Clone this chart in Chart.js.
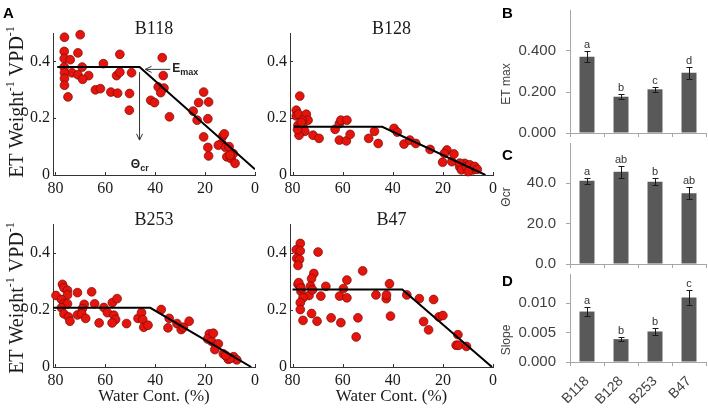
<!DOCTYPE html>
<html>
<head>
<meta charset="utf-8">
<script src="https://cdn.jsdelivr.net/npm/chart.js@4.4.0/dist/chart.umd.min.js"></script>
<style>
  body { margin: 0; background: #fff; }
  #wrap { position: relative; width: 708px; height: 414px; }
  canvas { position: absolute; }
</style>
</head>
<body>
<div id="wrap">
  <canvas id="pB118" width="262" height="200" style="left:0;top:0"></canvas>
  <canvas id="pB128" width="238" height="200" style="left:262px;top:0"></canvas>
  <canvas id="pB253" width="262" height="214" style="left:0;top:200px"></canvas>
  <canvas id="pB47" width="238" height="214" style="left:262px;top:200px"></canvas>
  <canvas id="pEtMax" width="208" height="140" style="left:500px;top:0"></canvas>
  <canvas id="pTheta" width="208" height="128" style="left:500px;top:140px"></canvas>
  <canvas id="pSlope" width="208" height="146" style="left:500px;top:268px"></canvas>
</div>
<script>
// ---- data ----
const waterTicks = [80, 60, 40, 20, 0];
const etTicks = [0, 0.2, 0.4];

// [water content %, ET weight-1 VPD-1]
const b118Points = [
  [76.4,0.485],[70.1,0.494],[76.5,0.435],[71.0,0.430],[76.5,0.410],[74.1,0.406],[54.2,0.425],[37.2,0.413],
  [60.8,0.392],[76.5,0.380],[69.3,0.380],[73.4,0.360],[76.4,0.360],[71.0,0.353],[66.7,0.350],[69.1,0.337],
  [76.4,0.340],[76.4,0.316],[55.5,0.350],[54.2,0.362],[49.5,0.360],[36.8,0.350],[75.0,0.275],[64.0,0.300],
  [62.0,0.304],[57.8,0.292],[55.1,0.288],[50.3,0.287],[50.4,0.228],[38.8,0.310],[36.5,0.306],[37.8,0.290],
  [41.8,0.263],[40.3,0.255],[34.3,0.205],[20.6,0.292],[22.6,0.255],[18.6,0.257],[24.8,0.225],[23.2,0.193],
  [18.9,0.198],[20.6,0.134],[12.9,0.137],[12.3,0.145],[13.3,0.111],[14.7,0.105],[11.8,0.097],[10.4,0.100],
  [18.9,0.097],[18.6,0.067],[11.3,0.064],[9.6,0.058],[8.7,0.075],[8.0,0.041],[10.0,0.070]
];
const b118Fit = [[79.3,0.38],[46.3,0.38],[0,0.02]];

const b128Points = [
  [77.1,0.278],[78.5,0.228],[78.5,0.208],[77.6,0.214],[74.5,0.214],[73.8,0.193],[76.1,0.193],[77.8,0.175],
  [75.8,0.170],[76.9,0.158],[75.1,0.154],[77.4,0.140],[71.8,0.140],[69.4,0.129],[63.0,0.161],[61.3,0.181],
  [60.7,0.193],[58.3,0.193],[61.3,0.123],[58.5,0.120],[57.0,0.143],[49.6,0.129],[47.3,0.154],[45.8,0.111],
  [39.5,0.164],[38.2,0.151],[35.5,0.109],[33.2,0.123],[30.8,0.111],[25.1,0.090],[18.4,0.088],[19.4,0.076],
  [20.1,0.045],[16.4,0.047],[15.6,0.074],[13.3,0.029],[11.3,0.041],[10.2,0.023],[13.3,0.042],[12.6,0.018],
  [10.6,0.029],[9.3,0.036],[7.9,0.018],[7.3,0.030],[9.9,0.012],[6.3,0.020],[76.5,0.185],[78.0,0.160]
];
const b128Fit = [[79.5,0.17],[44.2,0.17],[3,0]];

const b253Points = [
  [79.8,0.250],[77.2,0.289],[76.6,0.277],[75.2,0.268],[75.2,0.252],[77.6,0.236],[76.6,0.221],[75.2,0.221],
  [77.6,0.207],[76.6,0.186],[74.8,0.175],[74.2,0.160],[71.2,0.260],[71.2,0.182],[68.5,0.219],[69.2,0.204],
  [69.5,0.186],[67.9,0.170],[65.5,0.263],[64.3,0.221],[62.5,0.154],[60.6,0.208],[59.2,0.190],[57.2,0.225],
  [55.3,0.239],[56.6,0.181],[55.9,0.166],[57.3,0.154],[51.5,0.152],[46.9,0.170],[45.5,0.190],[45.0,0.166],
  [44.6,0.139],[42.9,0.146],[37.6,0.201],[34.9,0.137],[34.4,0.170],[31.3,0.152],[29.6,0.131],[28.7,0.139],
  [26.4,0.160],[18.3,0.116],[19.0,0.098],[17.4,0.090],[15.7,0.075],[14.7,0.081],[16.1,0.061],[12.7,0.046],
  [11.4,0.037],[9.7,0.032],[10.7,0.027],[8.6,0.036],[7.3,0.025],[9.9,0.030],[11.7,0.040],[16.7,0.118]
];
const b253Fit = [[81,0.207],[42,0.207],[1.5,0]];

const b47Points = [
  [76.9,0.432],[78.5,0.410],[76.9,0.406],[78.3,0.380],[77.2,0.376],[77.8,0.355],[69.8,0.402],[52.0,0.336],
  [58.3,0.304],[71.5,0.327],[72.4,0.309],[77.8,0.289],[76.9,0.283],[66.7,0.282],[59.7,0.274],[72.8,0.283],
  [73.4,0.250],[76.6,0.264],[68.7,0.248],[61.2,0.248],[58.3,0.242],[75.8,0.242],[76.9,0.225],[76.9,0.201],
  [75.8,0.163],[72.4,0.187],[70.2,0.160],[64.6,0.172],[60.7,0.155],[53.9,0.172],[54.6,0.105],[46.7,0.252],
  [42.6,0.239],[42.5,0.252],[41.3,0.291],[40.9,0.178],[34.4,0.252],[29.4,0.239],[23.7,0.236],[27.7,0.159],
  [25.7,0.130],[21.6,0.175],[20.0,0.180],[14.0,0.113],[14.7,0.076],[13.8,0.076],[10.6,0.072],[77.5,0.295],
  [76.6,0.276],[72.0,0.270]
];
const b47Fit = [[80,0.271],[36.2,0.271],[0.4,0]];

// annotation on B118 (data units)
const emaxArrow = [[34,0.372],[44,0.372]];
const thetaArrow = [[46.3,0.362],[46.3,0.123]];
const emaxLabel = [33.2,0.374];
const thetaLabel = [49.8,0.036];

// panels B-D
const lines = ['B118', 'B128', 'B253', 'B47'];
const etMax = [0.372, 0.177, 0.213, 0.294];
const etMaxErr = [0.026, 0.012, 0.012, 0.029];
const etMaxLetters = ['a', 'b', 'c', 'd'];
const etMaxTicks = [0, 0.2, 0.4];

const thetaCr = [41.3, 45.7, 40.8, 35.1];
const thetaCrErr = [1.5, 3.1, 1.8, 3.0];
const thetaCrLetters = ['a', 'ab', 'b', 'ab'];
const thetaCrTicks = [0, 20, 40];

const slope = [0.0086, 0.0039, 0.0052, 0.0110];
const slopeErr = [0.0007, 0.0003, 0.0006, 0.0013];
const slopeLetters = ['a', 'b', 'b', 'c'];
const slopeTicks = [0, 0.005, 0.010];

// ---- drawing ----
const serif = "'Liberation Serif', 'Times New Roman', serif";
const sans = "'Liberation Sans', Arial, sans-serif";
const axisGray = '#a6a6a6';

function arrow(ctx, x1, y1, x2, y2) {
  const ang = Math.atan2(y2 - y1, x2 - x1), h = 7;
  ctx.beginPath();
  ctx.moveTo(x1, y1); ctx.lineTo(x2, y2);
  ctx.moveTo(x2 - h * Math.cos(ang - 0.45), y2 - h * Math.sin(ang - 0.45));
  ctx.lineTo(x2, y2);
  ctx.lineTo(x2 - h * Math.cos(ang + 0.45), y2 - h * Math.sin(ang + 0.45));
  ctx.stroke();
}

function subText(ctx, x, y, main, sub, size) {
  ctx.textAlign = 'left';
  ctx.textBaseline = 'middle';
  ctx.font = 'bold ' + size + 'px ' + sans;
  ctx.fillText(main, x, y);
  const w = ctx.measureText(main).width;
  ctx.font = 'bold ' + Math.round(size * 0.72) + 'px ' + sans;
  ctx.fillText(sub, x + w, y + 4);
}

function yTitle(ctx, x, cy) {
  const parts = [['ET Weight', 20, 0], ['-1', 12, -9], [' VPD', 20, 0], ['-1', 12, -9]];
  let total = 0;
  parts.forEach(p => { ctx.font = p[1] + 'px ' + serif; total += ctx.measureText(p[0]).width; });
  ctx.save();
  ctx.translate(x, cy);
  ctx.rotate(-Math.PI / 2);
  ctx.textAlign = 'left';
  ctx.textBaseline = 'alphabetic';
  let pos = -total / 2;
  parts.forEach(p => {
    ctx.font = p[1] + 'px ' + serif;
    ctx.fillText(p[0], pos, p[2]);
    pos += ctx.measureText(p[0]).width;
  });
  ctx.restore();
}

const scatterDecor = {
  id: 'scatterDecor',
  afterDraw(chart, args, opts) {
    const { ctx, chartArea: a, scales: { x, y } } = chart;
    ctx.save();
    ctx.strokeStyle = '#333';
    ctx.lineWidth = 1;
    ctx.beginPath();
    waterTicks.forEach(v => {
      const px = Math.round(x.getPixelForValue(v)) + 0.5;
      ctx.moveTo(px, a.bottom); ctx.lineTo(px, a.bottom - 3);
    });
    etTicks.forEach(v => {
      const py = Math.round(y.getPixelForValue(v)) + 0.5;
      ctx.moveTo(a.left, py); ctx.lineTo(a.left + 3, py);
    });
    ctx.stroke();

    ctx.fillStyle = '#1a1a1a';
    ctx.font = '18px ' + serif;
    ctx.textAlign = 'center';
    ctx.textBaseline = 'alphabetic';
    ctx.fillText(opts.title, (a.left + a.right) / 2, a.top + 1);

    if (opts.yTitleAt) yTitle(ctx, opts.yTitleAt[0], opts.yTitleAt[1]);

    if (opts.letter) {
      ctx.font = 'bold 15px ' + sans;
      ctx.textAlign = 'left';
      ctx.fillStyle = '#000';
      ctx.fillText(opts.letter, 3, 18);
    }

    if (opts.annotate) {
      ctx.strokeStyle = '#333';
      ctx.fillStyle = '#222';
      arrow(ctx, x.getPixelForValue(emaxArrow[0][0]), y.getPixelForValue(emaxArrow[0][1]),
        x.getPixelForValue(emaxArrow[1][0]), y.getPixelForValue(emaxArrow[1][1]));
      arrow(ctx, x.getPixelForValue(thetaArrow[0][0]), y.getPixelForValue(thetaArrow[0][1]),
        x.getPixelForValue(thetaArrow[1][0]), y.getPixelForValue(thetaArrow[1][1]));
      subText(ctx, x.getPixelForValue(emaxLabel[0]), y.getPixelForValue(emaxLabel[1]), 'E', 'max', 12);
      subText(ctx, x.getPixelForValue(thetaLabel[0]), y.getPixelForValue(thetaLabel[1]), 'Θ', 'cr', 12);
    }
    ctx.restore();
  }
};

function scatterChart(id, points, fit, o) {
  return new Chart(document.getElementById(id), {
    type: 'scatter',
    data: {
      datasets: [
        { data: fit, showLine: true, borderColor: '#000', borderWidth: 2, pointRadius: 0, order: 0 },
        { data: points, backgroundColor: '#e5140d', borderColor: '#7a0a05', borderWidth: 0.7,
          pointRadius: 4.4, clip: false, order: 1 }
      ]
    },
    options: {
      responsive: false,
      animation: false,
      devicePixelRatio: 1,
      layout: { padding: { top: o.padTop, right: 7, left: 0, bottom: 0 } },
      plugins: {
        legend: { display: false },
        tooltip: { enabled: false },
        scatterDecor: o.decor
      },
      scales: {
        x: {
          type: 'linear', reverse: true, min: 0, max: 81,
          grid: { display: false, drawTicks: false },
          border: { color: '#333' },
          afterBuildTicks: s => { s.ticks = waterTicks.map(v => ({ value: v })); },
          ticks: { font: { family: serif, size: 16 }, color: '#1a1a1a', padding: 4, maxRotation: 0 },
          title: { display: o.xTitle, text: 'Water Cont. (%)', font: { family: serif, size: 17 },
            color: '#1a1a1a', padding: { top: 0, bottom: 7 } },
          afterFit: s => { s.height = o.xHeight; s.paddingLeft = 0; s.paddingRight = 0; }
        },
        y: {
          min: 0, max: 0.5,
          grid: { display: false, drawTicks: false },
          border: { color: '#333' },
          afterBuildTicks: s => { s.ticks = etTicks.map(v => ({ value: v })); },
          ticks: { font: { family: serif, size: 16 }, color: '#1a1a1a', padding: 3, callback: v => String(v) },
          afterFit: s => { s.width = o.yWidth; s.paddingTop = 0; s.paddingBottom = 0; }
        }
      }
    },
    plugins: [scatterDecor]
  });
}

scatterChart('pB118', b118Points, b118Fit,
  { padTop: 33, xHeight: 25, yWidth: 53, xTitle: false,
    decor: { title: 'B118', yTitleAt: [23, 102], letter: 'A', annotate: true } });
scatterChart('pB128', b128Points, b128Fit,
  { padTop: 33, xHeight: 25, yWidth: 28, xTitle: false, decor: { title: 'B128' } });
scatterChart('pB253', b253Points, b253Fit,
  { padTop: 24, xHeight: 47, yWidth: 53, xTitle: true,
    decor: { title: 'B253', yTitleAt: [23, 98] } });
scatterChart('pB47', b47Points, b47Fit,
  { padTop: 24, xHeight: 47, yWidth: 28, xTitle: true, decor: { title: 'B47' } });

const barDecor = {
  id: 'barDecor',
  afterDatasetsDraw(chart, args, opts) {
    const { ctx } = chart;
    const y = chart.scales.y;
    const meta = chart.getDatasetMeta(0);
    ctx.save();
    meta.data.forEach((bar, i) => {
      const v = opts.values[i], e = opts.errors[i];
      const top = Math.round(y.getPixelForValue(v + e)) + 0.5;
      const bot = Math.round(y.getPixelForValue(v - e)) + 0.5;
      const cx = Math.round(bar.x) + 0.5;
      ctx.strokeStyle = '#1a1a1a';
      ctx.lineWidth = 1;
      ctx.beginPath();
      ctx.moveTo(cx, top); ctx.lineTo(cx, bot);
      ctx.moveTo(cx - 3, top); ctx.lineTo(cx + 3, top);
      ctx.moveTo(cx - 3, bot); ctx.lineTo(cx + 3, bot);
      ctx.stroke();
      ctx.fillStyle = '#333';
      ctx.font = '11px ' + sans;
      ctx.textAlign = 'center';
      ctx.textBaseline = 'alphabetic';
      ctx.fillText(opts.letters[i], bar.x, top - 4);
    });
    ctx.fillStyle = '#404040';
    ctx.font = '12px ' + sans;
    ctx.save();
    ctx.translate(opts.titleAt[0], opts.titleAt[1]);
    ctx.rotate(-Math.PI / 2);
    ctx.textAlign = 'center';
    ctx.textBaseline = 'middle';
    ctx.fillText(opts.title, 0, 0);
    ctx.restore();
    ctx.fillStyle = '#000';
    ctx.font = 'bold 15px ' + sans;
    ctx.textAlign = 'left';
    ctx.textBaseline = 'alphabetic';
    ctx.fillText(opts.letter, opts.letterAt[0], opts.letterAt[1]);
    ctx.restore();
  }
};

function barChart(id, values, errors, letters, ticks, max, decimals, o) {
  return new Chart(document.getElementById(id), {
    type: 'bar',
    data: {
      labels: lines,
      datasets: [{ data: values, backgroundColor: '#595959', categoryPercentage: 1, barPercentage: 0.44 }]
    },
    options: {
      responsive: false,
      animation: false,
      devicePixelRatio: 1,
      layout: { padding: { top: o.padTop, right: 2, left: 0, bottom: 0 } },
      plugins: {
        legend: { display: false },
        tooltip: { enabled: false },
        barDecor: { values, errors, letters, title: o.title, titleAt: o.titleAt, letter: o.letter, letterAt: o.letterAt }
      },
      scales: {
        x: {
          grid: { display: true, drawOnChartArea: false, tickLength: 4, color: axisGray, offset: true },
          border: { color: axisGray },
          ticks: { display: o.showLabels, minRotation: 45, maxRotation: 45,
            font: { family: sans, size: 14 }, color: '#404040', padding: 7 },
          afterFit: s => { s.height = o.xHeight; s.paddingLeft = 0; s.paddingRight = 0; }
        },
        y: {
          min: 0, max,
          grid: { drawOnChartArea: false, tickLength: 4, color: axisGray },
          border: { color: axisGray },
          afterBuildTicks: s => { s.ticks = ticks.map(v => ({ value: v })); },
          ticks: { font: { family: sans, size: 15 }, color: '#404040', padding: 10,
            callback: v => v.toFixed(decimals) },
          afterFit: s => { s.width = 70; s.paddingTop = 0; s.paddingBottom = 0; }
        }
      }
    },
    plugins: [barDecor]
  });
}

barChart('pEtMax', etMax, etMaxErr, etMaxLetters, etMaxTicks, 0.6, 3,
  { padTop: 10, xHeight: 7, showLabels: false, title: 'ET max', titleAt: [7, 84], letter: 'B', letterAt: [2, 18] });
barChart('pTheta', thetaCr, thetaCrErr, thetaCrLetters, thetaCrTicks, 60, 1,
  { padTop: 3, xHeight: 4, showLabels: false, title: 'Θcr', titleAt: [7, 57], letter: 'C', letterAt: [2, 20] });
barChart('pSlope', slope, slopeErr, slopeLetters, slopeTicks, 0.015, 3,
  { padTop: 6, xHeight: 52, showLabels: true, title: 'Slope', titleAt: [7, 72], letter: 'D', letterAt: [2, 18] });
</script>
</body>
</html>
